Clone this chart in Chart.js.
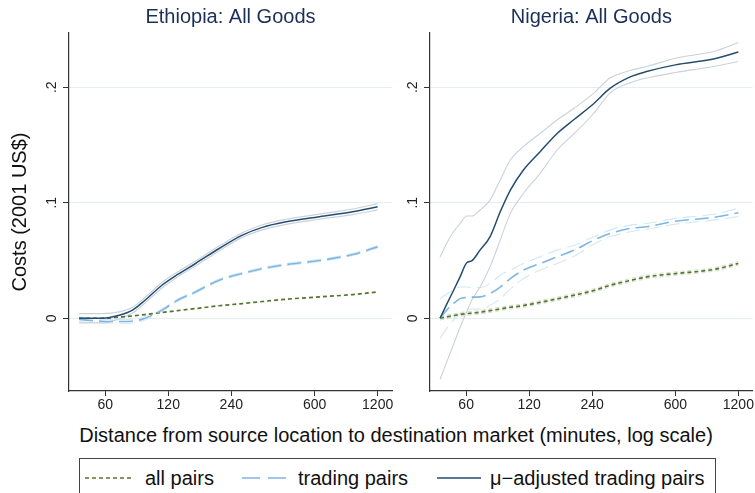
<!DOCTYPE html>
<html>
<head>
<meta charset="utf-8">
<script src="https://cdn.jsdelivr.net/npm/chart.js@4.4.0/dist/chart.umd.min.js"></script>
<style>
  body { margin: 0; background: #fff; font-family: "Liberation Sans", Arial, sans-serif; }
  #wrap { position: relative; width: 755px; height: 493px; overflow: hidden; background: #fff; }
  #left { position: absolute; left: 0; top: 0; }
  #right { position: absolute; left: 395px; top: 0; }
  #xtitle { position: absolute; left: 396px; top: 423px; transform: translateX(-50%);
            font-size: 20px; line-height: 24px; white-space: nowrap; color: #111; }
  #legend { position: absolute; left: 79px; top: 458px; width: 637px; height: 36px;
            box-sizing: border-box; border: 1px solid #444; }
  .lg-line { position: absolute; top: 472px; }
  .lg-text { position: absolute; top: 466px; font-size: 20px; line-height: 24px; white-space: nowrap; color: #111; }
</style>
</head>
<body>
<div id="wrap">
  <canvas id="left" width="395" height="420"></canvas>
  <canvas id="right" width="360" height="420"></canvas>
  <div id="xtitle">Distance from source location to destination market (minutes, log scale)</div>
  <div id="legend"></div>
  <svg class="lg-line" style="left:85px" width="48" height="12"><line x1="0" y1="6" x2="48" y2="6" stroke="#55752f" stroke-width="1.7" stroke-dasharray="4 3"/></svg>
  <div class="lg-text" style="left:145px">all pairs</div>
  <svg class="lg-line" style="left:242px" width="44" height="12"><line x1="0" y1="6" x2="44" y2="6" stroke="#7eb7e3" stroke-width="1.7" stroke-dasharray="18 8"/></svg>
  <div class="lg-text" style="left:298px">trading pairs</div>
  <svg class="lg-line" style="left:437px" width="44" height="12"><line x1="0" y1="6" x2="44" y2="6" stroke="#264d70" stroke-width="1.7"/></svg>
  <div class="lg-text" style="left:490px">μ−adjusted trading pairs</div>
</div>
<script>
const FONT = '"Liberation Sans", Arial, sans-serif';

const xTicks = [60, 120, 240, 600, 1200];
const yTicks = [0, 0.1, 0.2];
const yTickLabels = ['0', '.1', '.2'];

// Ethiopia (minutes, log scale)
const ethX = [45, 58, 70, 81, 93, 112, 133, 162, 210, 271, 338, 439, 634, 912, 1200];
const ethAll = [0.000, 0.000, 0.001, 0.002, 0.0032, 0.005, 0.0066, 0.0084, 0.0108, 0.0127, 0.0145, 0.0165, 0.0185, 0.0205, 0.0228];
const ethTrading = [-0.001, -0.0026, -0.0028, -0.0026, 0.000, 0.007, 0.0156, 0.0228, 0.033, 0.0388, 0.043, 0.0465, 0.050, 0.0552, 0.0618];
const ethTradingHi = [0.001, -0.001, -0.0012, -0.001, 0.0015, 0.008, 0.0166, 0.0238, 0.034, 0.0398, 0.044, 0.0475, 0.051, 0.0562, 0.0628];
const ethTradingLo = [-0.003, -0.0042, -0.0044, -0.0042, -0.0015, 0.006, 0.0146, 0.0218, 0.032, 0.0378, 0.042, 0.0455, 0.049, 0.0542, 0.0608];
const ethMu = [0.000, 0.000, 0.0026, 0.007, 0.0156, 0.0286, 0.0379, 0.0474, 0.0604, 0.072, 0.0787, 0.0835, 0.0879, 0.0922, 0.0965];
const ethMuHi = [0.004, 0.004, 0.0055, 0.0095, 0.018, 0.031, 0.040, 0.0495, 0.0625, 0.074, 0.081, 0.0857, 0.0901, 0.0946, 0.0992];
const ethMuLo = [-0.004, -0.004, -0.0005, 0.0045, 0.0132, 0.0262, 0.0358, 0.0453, 0.0583, 0.070, 0.0765, 0.0813, 0.0857, 0.0898, 0.0938];

// Nigeria
const ngaX = [45, 48.4, 52.2, 56.1, 60.4, 63.8, 69.9, 78, 87.3, 97.6, 112.7, 135.4, 163.3, 197.4, 244.7, 292, 365, 437, 600, 913, 1200];
const ngaAll = [0.000, 0.0012, 0.0023, 0.0033, 0.004, 0.0045, 0.0052, 0.0066, 0.0081, 0.0095, 0.011, 0.0138, 0.0168, 0.020, 0.024, 0.0285, 0.0327, 0.0358, 0.0387, 0.0422, 0.0474];
const ngaAllHi = [0.0015, 0.0027, 0.0038, 0.0048, 0.0055, 0.006, 0.0067, 0.0081, 0.0096, 0.011, 0.0125, 0.0153, 0.0183, 0.0215, 0.0255, 0.030, 0.0342, 0.0373, 0.0402, 0.0437, 0.049];
const ngaAllLo = [-0.0015, -0.0003, 0.0008, 0.0018, 0.0025, 0.003, 0.0037, 0.0051, 0.0066, 0.008, 0.0095, 0.0123, 0.0153, 0.0185, 0.0225, 0.027, 0.0312, 0.0343, 0.0372, 0.0407, 0.0458];
const ngaTrading = [0.000, 0.007, 0.0127, 0.017, 0.018, 0.0183, 0.0185, 0.0214, 0.027, 0.0344, 0.0416, 0.0474, 0.0532, 0.059, 0.0677, 0.0734, 0.0778, 0.0792, 0.084, 0.0873, 0.0913];
const ngaTradingHi = [0.017, 0.021, 0.0243, 0.027, 0.027, 0.0266, 0.0266, 0.030, 0.0373, 0.0416, 0.0474, 0.0532, 0.059, 0.0633, 0.0705, 0.0763, 0.0806, 0.082, 0.0865, 0.090, 0.095];
const ngaTradingLo = [-0.0176, -0.009, -0.0017, 0.004, 0.0075, 0.008, 0.0081, 0.011, 0.0168, 0.0254, 0.0344, 0.0416, 0.0474, 0.0538, 0.0642, 0.0705, 0.0749, 0.077, 0.0815, 0.085, 0.088];
const ngaMu = [0.000, 0.012, 0.024, 0.0358, 0.048, 0.0497, 0.059, 0.0705, 0.0922, 0.111, 0.1284, 0.1442, 0.160, 0.1723, 0.186, 0.199, 0.209, 0.2136, 0.2194, 0.2244, 0.2305];
const ngaMuHi = [0.053, 0.0648, 0.0749, 0.082, 0.0885, 0.0885, 0.0937, 0.1023, 0.1197, 0.137, 0.1486, 0.160, 0.1717, 0.182, 0.195, 0.208, 0.2145, 0.218, 0.2252, 0.231, 0.2388];
const ngaMuLo = [-0.053, -0.038, -0.0227, -0.008, 0.0058, 0.0156, 0.027, 0.0445, 0.0677, 0.0908, 0.108, 0.1255, 0.1457, 0.160, 0.1775, 0.195, 0.204, 0.208, 0.2128, 0.218, 0.2223];

const GREEN = '#55752f', BLUE = '#7eb7e3', NAVY = '#264d70';
const GREEN_CI = '#d5e0c8', BLUE_CI = '#d3e7f6', NAVY_CI = '#c9d2dc';

function series(xs, ys, color, width, dash) {
    return {
        data: xs.map((x, i) => ({ x: x, y: ys[i] })),
        borderColor: color,
        borderWidth: width,
        borderDash: dash || [],
        pointRadius: 0,
        fill: false
    };
}

// draws the panel title and the rotated y tick labels
const panelDecor = {
    id: 'panelDecor',
    afterDraw(chart, args, opts) {
        const { ctx, chartArea, scales } = chart;
        ctx.save();
        ctx.fillStyle = '#1c2f57';
        ctx.font = '20px ' + FONT;
        ctx.textAlign = 'center';
        ctx.textBaseline = 'middle';
        ctx.fillText(opts.title, (chartArea.left + chartArea.right) / 2, 17);
        ctx.fillStyle = '#222';
        ctx.font = '14px ' + FONT;
        yTicks.forEach((v, i) => {
            ctx.save();
            ctx.translate(chartArea.left - 17, scales.y.getPixelForValue(v));
            ctx.rotate(-Math.PI / 2);
            ctx.fillText(yTickLabels[i], 0, 0);
            ctx.restore();
        });
        ctx.restore();
    }
};

function panelOptions(title, yWidth, padRight, showYTitle) {
    return {
        responsive: false,
        animation: false,
        layout: { padding: { top: 33, right: padRight, left: 0, bottom: 0 } },
        elements: { line: { cubicInterpolationMode: 'monotone' } },
        plugins: {
            legend: { display: false },
            tooltip: { enabled: false },
            panelDecor: { title: title }
        },
        scales: {
            x: {
                type: 'logarithmic',
                min: 40.3,
                max: 1405,
                afterBuildTicks: s => { s.ticks = xTicks.map(v => ({ value: v })); },
                afterFit: s => { s.height = 29; },
                ticks: {
                    color: '#222', padding: 1, maxRotation: 0, autoSkip: false,
                    font: { size: 14, family: FONT },
                    callback: v => String(v)
                },
                grid: { drawOnChartArea: false, tickLength: 5, color: '#333' },
                border: { color: '#333', width: 1.2 }
            },
            y: {
                min: -0.063,
                max: 0.247,
                afterBuildTicks: s => { s.ticks = yTicks.map(v => ({ value: v })); },
                afterFit: s => { s.width = yWidth; },
                ticks: { display: false },
                grid: { color: '#e4eeef', tickColor: '#333', tickLength: 6 },
                border: { color: '#333', width: 1.2 },
                title: {
                    display: showYTitle, text: 'Costs (2001 US$)', color: '#111',
                    font: { size: 20, family: FONT }, padding: { top: 8, bottom: 0 }
                }
            }
        }
    };
}

new Chart(document.getElementById('left'), {
    type: 'line',
    data: {
        datasets: [
            series(ethX, ethMu, NAVY, 1.5),
            series(ethX, ethTrading, BLUE, 1.6, [14, 6]),
            series(ethX, ethAll, GREEN, 1.7, [4, 3]),
            series(ethX, ethMuHi, NAVY_CI, 1.2),
            series(ethX, ethMuLo, NAVY_CI, 1.2),
            series(ethX, ethTradingHi, BLUE_CI, 1, [14, 6]),
            series(ethX, ethTradingLo, BLUE_CI, 1, [14, 6])
        ]
    },
    options: panelOptions('Ethiopia: All Goods', 69, 3, true),
    plugins: [panelDecor]
});

new Chart(document.getElementById('right'), {
    type: 'line',
    data: {
        datasets: [
            series(ngaX, ngaMu, NAVY, 1.5),
            series(ngaX, ngaTrading, BLUE, 1.6, [14, 6]),
            series(ngaX, ngaAll, GREEN, 1.7, [4, 3]),
            series(ngaX, ngaMuHi, NAVY_CI, 1.1),
            series(ngaX, ngaMuLo, NAVY_CI, 1.1),
            series(ngaX, ngaTradingHi, BLUE_CI, 1.1, [14, 6]),
            series(ngaX, ngaTradingLo, BLUE_CI, 1.1, [14, 6]),
            series(ngaX, ngaAllHi, GREEN_CI, 1.1, [4, 3]),
            series(ngaX, ngaAllLo, GREEN_CI, 1.1, [4, 3])
        ]
    },
    options: panelOptions('Nigeria: All Goods', 35, 2, false),
    plugins: [panelDecor]
});
</script>
</body>
</html>
